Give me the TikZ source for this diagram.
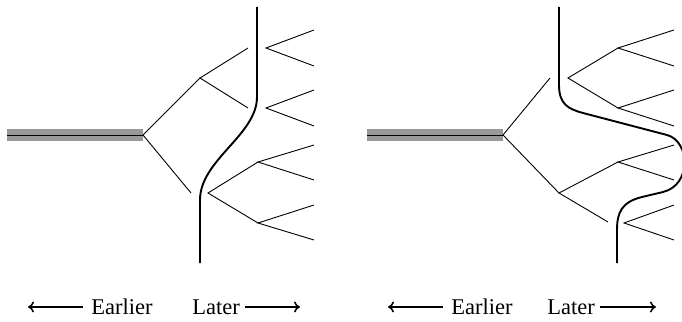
\documentclass[tikz,border=0pt]{standalone}
\usepackage{fontspec}
\setmainfont{Liberation Serif}
\usetikzlibrary{arrows.meta}
\definecolor{barcol}{HTML}{999999}
\begin{document}
\begin{tikzpicture}[x=1pt,y=-1pt,
  thin line/.style={line width=0.9pt},
  thick line/.style={line width=1.9pt},
  lbl/.style={inner sep=0pt,font=\fontsize{22.5}{26}\selectfont},
  timearrow/.style={line width=1.5pt,-{To[length=6pt,width=11pt]}}]
\useasboundingbox (0,0) rectangle (682,321);
% ---------- left panel ----------
\coordinate (lb0) at (7,135);
\coordinate (lr) at (143,135);
\coordinate (la) at (200,78);
\coordinate (la1) at (248,48);
\coordinate (la2) at (248,108);
\coordinate (lb) at (191,193);
\coordinate (lv1) at (266,48);
\coordinate (lv1a) at (314,30);
\coordinate (lv1b) at (314,66);
\coordinate (lv2) at (266,108);
\coordinate (lv2a) at (314,90);
\coordinate (lv2b) at (314,126);
\coordinate (lc) at (208,193);
\coordinate (lc1) at (258,162);
\coordinate (lc2) at (258,223);
\coordinate (lc1a) at (314,145);
\coordinate (lc1b) at (314,180);
\coordinate (lc2a) at (314,205);
\coordinate (lc2b) at (314,240);
\coordinate (lt0) at (257,7);
\coordinate (lt1) at (257,97);
\coordinate (lt2) at (200,200);
\coordinate (lt3) at (200,263);
\fill[barcol] (7,129) rectangle (143,141);
\draw[thin line] (lb0) -- (lr);
\draw[thin line] (lr) -- (la);
\draw[thin line] (lr) -- (lb);
\draw[thin line] (la1) -- (la) -- (la2);
\draw[thin line] (lv1a) -- (lv1) -- (lv1b);
\draw[thin line] (lv2a) -- (lv2) -- (lv2b);
\draw[thin line] (lc1) -- (lc) -- (lc2);
\draw[thin line] (lc1a) -- (lc1) -- (lc1b);
\draw[thin line] (lc2a) -- (lc2) -- (lc2b);
\draw[thick line] (lt0) -- (lt1) .. controls (257,135) and (200,160) .. (lt2) -- (lt3);
% ---------- right panel ----------
\coordinate (rb0) at (367,135);
\coordinate (rr) at (503,135);
\coordinate (ra) at (550,78);
\coordinate (rb) at (559,193);
\coordinate (rb1) at (618,162);
\coordinate (rb2) at (608,222);
\coordinate (rb1a) at (674,145);
\coordinate (rb1b) at (674,180);
\coordinate (rv) at (568,78);
\coordinate (rv1) at (618,48);
\coordinate (rv2) at (618,108);
\coordinate (rv1a) at (674,30);
\coordinate (rv1b) at (674,66);
\coordinate (rv2a) at (674,90);
\coordinate (rv2b) at (674,126);
\coordinate (rw) at (624,223);
\coordinate (rwa) at (674,205);
\coordinate (rwb) at (674,240);
\coordinate (rt0) at (559,7);
\coordinate (rt1) at (559,85);
\coordinate (rt2) at (583,113);
\coordinate (rt3) at (667,135);
\coordinate (rt4) at (663,192);
\coordinate (rt5) at (642,197);
\coordinate (rt6) at (617,230);
\coordinate (rt7) at (617,263);
\fill[barcol] (367,129) rectangle (503,141);
\draw[thin line] (rb0) -- (rr);
\draw[thin line] (rr) -- (ra);
\draw[thin line] (rr) -- (rb);
\draw[thin line] (rb1) -- (rb) -- (rb2);
\draw[thin line] (rb1a) -- (rb1) -- (rb1b);
\draw[thin line] (rv1) -- (rv) -- (rv2);
\draw[thin line] (rv1a) -- (rv1) -- (rv1b);
\draw[thin line] (rv2a) -- (rv2) -- (rv2b);
\draw[thin line] (rwa) -- (rw) -- (rwb);
\draw[thick line] (rt0) -- (rt1) .. controls (559,104) and (568,109) .. (rt2) -- (rt3)
  .. controls (690,141) and (692,185) .. (rt4) -- (rt5)
  .. controls (622,202) and (617,212) .. (rt6) -- (rt7);
% ---------- labels ----------
\node[lbl] (le) at (122,307) {Earlier};
\node[lbl] (ll) at (216,307) {Later};
\coordinate (lea) at (28,307);
\coordinate (lla) at (300,307);
\draw[timearrow,shorten <=8pt] (le.west) -- (lea);
\draw[timearrow,shorten <=5pt] (ll.east) -- (lla);
\node[lbl] (re) at (482,307) {Earlier};
\node[lbl] (rl) at (571,307) {Later};
\coordinate (rea) at (388,307);
\coordinate (rla) at (656,307);
\draw[timearrow,shorten <=8pt] (re.west) -- (rea);
\draw[timearrow,shorten <=5pt] (rl.east) -- (rla);
\end{tikzpicture}
\end{document}
